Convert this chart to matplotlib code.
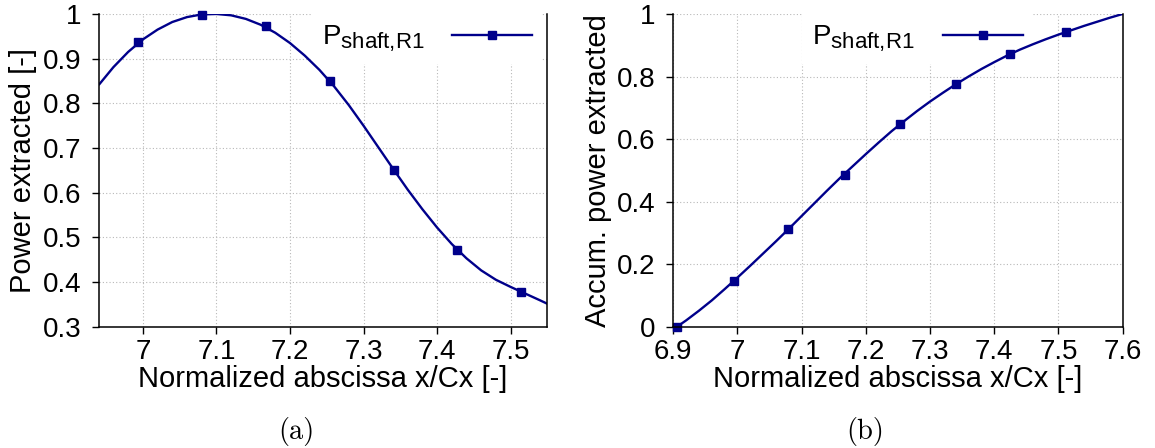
import matplotlib
matplotlib.use("Agg")
import matplotlib.pyplot as plt
from matplotlib.lines import Line2D
from matplotlib.ticker import FuncFormatter

try:
    # gnuplot subscripts are a bit larger than mathtext's default 0.7
    import matplotlib._mathtext as _mt
    _mt.SHRINK_FACTOR = 0.8
except Exception:
    pass

plt.rcParams['font.family'] = ['Liberation Sans', 'DejaVu Sans']
plt.rcParams['mathtext.default'] = 'regular'

# (a) power extracted, curve
pow_x = [6.941, 6.96, 6.98, 7.00, 7.02, 7.04, 7.06, 7.08, 7.10, 7.12, 7.14, 7.16,
         7.18, 7.20, 7.22, 7.24, 7.26, 7.28, 7.30, 7.32, 7.34, 7.36, 7.38, 7.40,
         7.42, 7.44, 7.46, 7.48, 7.50, 7.52, 7.54, 7.549]
pow_y = [0.843, 0.881, 0.915, 0.943, 0.965, 0.982, 0.993, 0.999, 1.000, 0.997, 0.989, 0.976,
         0.958, 0.935, 0.907, 0.875, 0.838, 0.796, 0.750, 0.702, 0.654, 0.607, 0.563, 0.522,
         0.485, 0.453, 0.426, 0.405, 0.389, 0.374, 0.359, 0.352]
pow_mx = [6.994, 7.081, 7.167, 7.254, 7.341, 7.427, 7.514]
pow_my = [0.938, 0.998, 0.972, 0.849, 0.651, 0.472, 0.378]

# (b) accumulated power extracted
acc_x = [6.906, 6.92, 6.94, 6.96, 6.98, 7.00, 7.02, 7.04, 7.06, 7.08, 7.10, 7.12,
         7.14, 7.16, 7.18, 7.20, 7.22, 7.24, 7.26, 7.28, 7.30, 7.32, 7.34, 7.36,
         7.38, 7.40, 7.42, 7.44, 7.46, 7.48, 7.50, 7.52, 7.54, 7.56, 7.58, 7.60]
acc_y = [0.0, 0.020, 0.051, 0.084, 0.120, 0.157, 0.195, 0.234, 0.273, 0.313, 0.354, 0.395,
         0.436, 0.476, 0.514, 0.552, 0.589, 0.625, 0.658, 0.690, 0.720, 0.748, 0.775, 0.800,
         0.824, 0.846, 0.867, 0.886, 0.903, 0.919, 0.934, 0.948, 0.962, 0.975, 0.988, 1.0]
acc_mx = [6.906, 6.995, 7.079, 7.167, 7.253, 7.340, 7.425, 7.511]
acc_my = [0.0, 0.147, 0.312, 0.485, 0.647, 0.775, 0.871, 0.942]

legend_label = r'$\mathregular{P_{shaft{,}R1}}$'
xlabel = 'Normalized abscissa x/Cx [-]'

navy = '#00008b'
fmt = FuncFormatter(lambda v, p: '%g' % round(v, 3))

fig = plt.figure(figsize=(11.55, 4.48), dpi=100)
ax1 = fig.add_axes([0.0861, 0.2708, 0.3872, 0.698])
ax2 = fig.add_axes([0.5829, 0.2708, 0.3891, 0.698])


def style(ax):
    ax.spines['top'].set_visible(False)
    for s in ['left', 'bottom', 'right']:
        ax.spines[s].set_linewidth(1.1)
    ax.tick_params(axis='both', direction='out', length=5, width=1.0,
                   labelsize=20, top=False, right=False)
    ax.tick_params(axis='y', pad=8)
    ax.tick_params(axis='x', pad=4)
    ax.grid(True, linestyle=(0, (1, 2)), color='#b8b8b8', linewidth=0.8)
    ax.set_axisbelow(True)
    ax.xaxis.set_major_formatter(fmt)
    ax.yaxis.set_major_formatter(fmt)
    ax.set_xlabel(xlabel, fontsize=21, labelpad=0)


def add_legend(ax, xanchor):
    h = Line2D([], [], color=navy, lw=1.7, marker='s', markersize=5.5)
    leg = ax.legend([h], [legend_label], loc='upper right',
                    bbox_to_anchor=(xanchor, 1.0), markerfirst=False,
                    fontsize=20, handlelength=2.9, handletextpad=1.0,
                    borderaxespad=0, borderpad=0.35, frameon=True,
                    fancybox=False, framealpha=1)
    leg.get_frame().set_edgecolor('none')
    leg.get_frame().set_facecolor('white')
    # key box hides the grid but not the curve
    leg.set_zorder(1.5)


# panel (a)
ax1.plot(pow_x, pow_y, color=navy, lw=1.7)
ax1.plot(pow_mx, pow_my, ls='none', marker='s', markersize=5.5, color=navy, clip_on=False)
ax1.set_xlim(6.941, 7.549)
ax1.set_ylim(0.3, 1.0)
ax1.set_xticks([7.0, 7.1, 7.2, 7.3, 7.4, 7.5])
ax1.set_yticks([0.3, 0.4, 0.5, 0.6, 0.7, 0.8, 0.9, 1.0])
style(ax1)
ax1.set_ylabel('Power extracted [-]', fontsize=21, labelpad=4)
add_legend(ax1, 0.99)

# panel (b)
ax2.plot(acc_x, acc_y, color=navy, lw=1.7)
ax2.plot(acc_mx, acc_my, ls='none', marker='s', markersize=5.5, color=navy, clip_on=False)
ax2.set_xlim(6.9, 7.6)
ax2.set_ylim(0.0, 1.0)
ax2.set_xticks([6.9, 7.0, 7.1, 7.2, 7.3, 7.4, 7.5, 7.6])
ax2.set_yticks([0.0, 0.2, 0.4, 0.6, 0.8, 1.0])
style(ax2)
ax2.set_ylabel('Accum. power extracted', fontsize=21, labelpad=3)
add_legend(ax2, 0.8)

fig.text(296 / 1155, 1 - 431 / 448, '(a)', family='cmr10', fontsize=20.5,
         ha='center', va='center')
fig.text(865 / 1155, 1 - 431 / 448, '(b)', family='cmr10', fontsize=20.5,
         ha='center', va='center')

fig.savefig('out.png', dpi=100)
